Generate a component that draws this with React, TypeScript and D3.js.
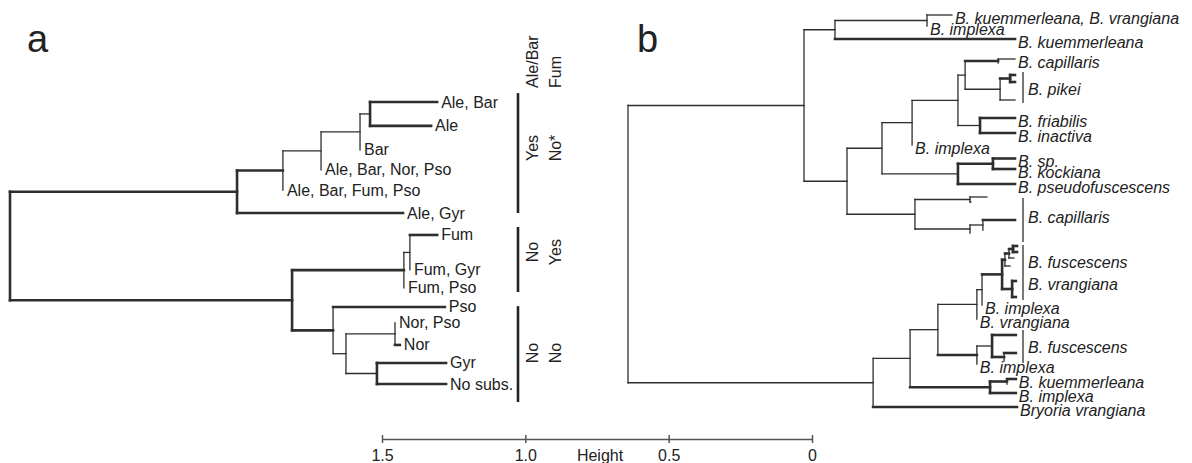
import { useRef, useEffect } from 'react';
import * as d3 from 'd3';

/**
 * Two dendrograms side by side (a: substance profiles, b: Bryoria taxa)
 */

// ---- panel a: [id, parent, distance from root (Height units)]
const treeANodes: [string, string | null, number][] = [
  ['a0', null, 0],
  ['aA', 'a0', 0.792],
  ['aB', 'a0', 0.984],
  ['a283', 'aA', 0.952],
  ['a321', 'a283', 1.085],
  ['a360', 'a321', 1.221],
  ['a370', 'a360', 1.256],
  ['la1', 'a370', 1.49],
  ['la2', 'a370', 1.469],
  ['la3', 'a360', 1.221],
  ['la4', 'a321', 1.085],
  ['la5', 'a283', 0.952],
  ['la6', 'aA', 1.371],
  ['a404', 'aB', 1.374],
  ['a410', 'a404', 1.395],
  ['la7', 'a410', 1.49],
  ['la8', 'a410', 1.395],
  ['la9', 'a404', 1.374],
  ['a333', 'aB', 1.127],
  ['la10', 'a333', 1.517],
  ['a346', 'a333', 1.172],
  ['a395', 'a346', 1.343],
  ['la11', 'a395', 1.343],
  ['la12', 'a395', 1.36],
  ['a377', 'a346', 1.28],
  ['la13', 'a377', 1.521],
  ['la14', 'a377', 1.521],
];
// leaf: [id, row, label]
const treeALeaves: [string, number, string][] = [
  ['la1', 0, 'Ale, Bar'],
  ['la2', 1.1, 'Ale'],
  ['la3', 2.21, 'Bar'],
  ['la4', 3.13, 'Ale, Bar, Nor, Pso'],
  ['la5', 4.06, 'Ale, Bar, Fum, Pso'],
  ['la6', 5.12, 'Ale, Gyr'],
  ['la7', 6.13, 'Fum'],
  ['la8', 7.74, 'Fum, Gyr'],
  ['la9', 8.57, 'Fum, Pso'],
  ['la10', 9.45, 'Pso'],
  ['la11', 10.18, 'Nor, Pso'],
  ['la12', 11.2, 'Nor'],
  ['la13', 12.03, 'Gyr'],
  ['la14', 13, 'No subs.'],
];
const treeABold = ['aA', 'aB', 'a283', 'la6', 'la1', 'la2', 'a404', 'a333', 'la7', 'la10', 'la12', 'la13', 'la14'];

const groupRows: [number, number][] = [[-0.41, 5.12], [5.76, 8.76], [9.41, 13.83]];
const groupMidRows = [2.12, 6.92, 11.57];
const colHeads = ['Ale/Bar', 'Fum'];
const colAleBar = ['Yes', 'No', 'No'];
const colFum = ['No*', 'Yes', 'No'];

// ---- panel b
const treeBNodes: [string, string | null, number][] = [
  ['b0', null, 0],
  ['b804', 'b0', 0.614],
  ['b835', 'b804', 0.722],
  ['b927', 'b835', 1.043],
  ['bl1', 'b927', 1.13],
  ['bl2', 'b927', 1.043],
  ['bl3', 'b835', 1.35],
  ['b847', 'b804', 0.764],
  ['b882', 'b847', 0.886],
  ['b912', 'b882', 0.991],
  ['b958a', 'b912', 1.151],
  ['b965', 'b958a', 1.176],
  ['b998', 'b965', 1.291],
  ['bl4', 'b998', 1.35],
  ['bl5', 'b998', 1.291],
  ['b1000', 'b965', 1.298],
  ['b1010', 'b1000', 1.333],
  ['bl6', 'b1010', 1.35],
  ['bl7', 'b1010', 1.35],
  ['bl8', 'b1000', 1.35],
  ['b980', 'b958a', 1.228],
  ['bl9', 'b980', 1.35],
  ['bl10', 'b980', 1.35],
  ['bl11', 'b912', 0.991],
  ['b958b', 'b882', 1.151],
  ['b993', 'b958b', 1.273],
  ['bl12', 'b993', 1.35],
  ['bl13', 'b993', 1.35],
  ['bl14', 'b958b', 1.35],
  ['b915', 'b847', 1.001],
  ['bc1', 'b915', 1.193],
  ['bl15', 'bc1', 1.252],
  ['bl16', 'bc1', 1.196],
  ['bc2', 'b915', 1.193],
  ['bc3', 'bc2', 1.238],
  ['bl17', 'bc3', 1.35],
  ['bl18', 'bc3', 1.238],
  ['bl19', 'bc2', 1.193],
  ['b873', 'b0', 0.855],
  ['b910', 'b873', 0.984],
  ['b938', 'b910', 1.081],
  ['b977', 'b938', 1.217],
  ['b982', 'b977', 1.235],
  ['b1002', 'b982', 1.305],
  ['bF', 'b1002', 1.315],
  ['bF2', 'bF', 1.329],
  ['bF3', 'bF2', 1.343],
  ['bl20', 'bF3', 1.357],
  ['bl21', 'bF3', 1.357],
  ['bl22', 'bF2', 1.346],
  ['bl23', 'bF', 1.333],
  ['bV', 'b1002', 1.34],
  ['bl24', 'bV', 1.353],
  ['bl25', 'bV', 1.353],
  ['bl26', 'b982', 1.235],
  ['bl27', 'b977', 1.217],
  ['b977b', 'b938', 1.217],
  ['b992', 'b977b', 1.27],
  ['bl28', 'b992', 1.353],
  ['b1004', 'b992', 1.312],
  ['bl29', 'b1004', 1.353],
  ['bl30', 'b1004', 1.312],
  ['bl31', 'b977b', 1.217],
  ['b990', 'b910', 1.263],
  ['b1007', 'b990', 1.322],
  ['bl32', 'b1007', 1.353],
  ['bl33', 'b1007', 1.322],
  ['bl34', 'b990', 1.353],
  ['bl35', 'b873', 1.357],
];
const treeBLeaves: [string, number, string][] = [
  ['bl1', 0, 'B. kuemmerleana, B. vrangiana'],
  ['bl2', 1.1, 'B. implexa'],
  ['bl3', 2.4, 'B. kuemmerleana'],
  ['bl4', 4.4, 'B. capillaris'],
  ['bl5', 4.8, ''],
  ['bl6', 6.0, ''],
  ['bl7', 6.7, ''],
  ['bl8', 8.5, ''],
  ['bl9', 10.3, 'B. friabilis'],
  ['bl10', 11.8, 'B. inactiva'],
  ['bl11', 13.0, 'B. implexa'],
  ['bl12', 14.35, 'B. sp.'],
  ['bl13', 15.4, 'B. kockiana'],
  ['bl14', 16.9, 'B. pseudofuscescens'],
  ['bl15', 18.2, ''],
  ['bl16', 18.7, ''],
  ['bl17', 20.5, ''],
  ['bl18', 21.5, ''],
  ['bl19', 21.8, ''],
  ['bl20', 23.1, ''],
  ['bl21', 23.7, ''],
  ['bl22', 24.3, ''],
  ['bl23', 25.1, ''],
  ['bl24', 26.6, ''],
  ['bl25', 28.2, ''],
  ['bl26', 29.0, 'B. implexa'],
  ['bl27', 30.4, 'B. vrangiana'],
  ['bl28', 32.0, ''],
  ['bl29', 33.8, ''],
  ['bl30', 34.6, ''],
  ['bl31', 34.9, 'B. implexa'],
  ['bl32', 36.4, 'B. kuemmerleana'],
  ['bl33', 36.9, ''],
  ['bl34', 37.8, 'B. implexa'],
  ['bl35', 39.2, 'Bryoria vrangiana'],
];
const treeBBold = ['bl3', 'b998', 'b1010', 'bl6', 'bl7', 'bl9', 'bl10', 'b993', 'bl12', 'bl13', 'bl14',
  'bl17', 'bl35', 'b990', 'b1007', 'bl32', 'bl34', 'b977b', 'bl28', 'b1004', 'bl29', 'b1002', 'bV',
  'bl24', 'bl25', 'bF', 'bF2', 'bF3', 'bl20', 'bl21'];

const cladeBars: [number, number][] = [[5.7, 8.8], [18.3, 22.7], [23.0, 28.5], [31.5, 34.8]];
const cladeLabels: [number, string][] = [
  [7.4, 'B. pikei'], [20.2, 'B. capillaris'], [24.7, 'B. fuscescens'], [26.9, 'B. vrangiana'], [33.2, 'B. fuscescens'],
];

// scale bar
const heightTicks = [1.5, 1.0, 0.5, 0];
const heightTickLabels = ['1.5', '1.0', '0.5', '0'];

const FONT = '"Liberation Sans", Arial, Helvetica, sans-serif';
const LINE = '#2e2e2e';

function buildTree(nodes: [string, string | null, number][], leaves: [string, number, string][]) {
  const leafMap = new Map(leaves.map(l => [l[0], l]));
  const root: any = d3.stratify<[string, string | null, number]>().id(d => d[0]).parentId(d => d[1])(nodes);
  root.eachAfter((n: any) => {
    if (!n.children) {
      const lf = leafMap.get(n.id)!;
      n.row = lf[1];
      n.label = lf[2];
    } else {
      const rs = n.children.map((c: any) => c.row);
      n.row = ((d3.min(rs) as number) + (d3.max(rs) as number)) / 2;
    }
  });
  return root;
}

function drawTree(g: any, root: any, x: any, y: any, bold: string[], dx: number, dy: number, italic: boolean) {
  const boldSet = new Set(bold);
  const thin = 1.3, thick = 2.6;
  root.each((n: any) => {
    if (n.parent) {
      const x0 = x(n.parent.data[2]), x1 = x(n.data[2]);
      if (x1 - x0 > 0.5) {
        g.append('line').attr('x1', x0).attr('x2', x1).attr('y1', y(n.row)).attr('y2', y(n.row))
          .attr('stroke', LINE).attr('stroke-width', boldSet.has(n.id) ? thick : thin)
          .attr('stroke-linecap', 'square');
      }
    }
    if (n.children) {
      const rs = n.children.map((c: any) => c.row);
      const allBold = n.children.every((c: any) => boldSet.has(c.id));
      g.append('line').attr('x1', x(n.data[2])).attr('x2', x(n.data[2]))
        .attr('y1', y(d3.min(rs))).attr('y2', y(d3.max(rs)))
        .attr('stroke', LINE).attr('stroke-width', allBold ? thick : thin)
        .attr('stroke-linecap', 'square');
    }
  });
  root.leaves().filter((n: any) => n.label).forEach((n: any) => {
    g.append('text').attr('x', x(n.data[2]) + dx).attr('y', y(n.row) + dy)
      .attr('dominant-baseline', 'central')
      .attr('font-size', 16).attr('font-family', FONT)
      .attr('font-style', italic ? 'italic' : 'normal')
      .attr('fill', '#222').text(n.label);
  });
}

export default function App() {
  const ref = useRef<SVGSVGElement>(null);

  useEffect(() => {
    const svg = d3.select(ref.current);
    svg.selectAll('*').remove();
    const W = 1192, H = 463;
    svg.append('rect').attr('width', W).attr('height', H).attr('fill', '#fff');

    // ---- panel a
    const gA = svg.append('g');
    const xA = d3.scaleLinear().domain([0, 1.5]).range([10, 440]);
    const yA = d3.scaleLinear().domain([0, 13]).range([102, 384]);
    drawTree(gA, buildTree(treeANodes, treeALeaves), xA, yA, treeABold, 4, 0, false);

    gA.append('text').attr('x', 27).attr('y', 52).attr('font-size', 38).attr('font-family', FONT)
      .attr('fill', '#222').text('a');

    const barX = 518;
    groupRows.forEach(([r0, r1]) => {
      gA.append('line').attr('x1', barX).attr('x2', barX).attr('y1', yA(r0)).attr('y2', yA(r1))
        .attr('stroke', '#222').attr('stroke-width', 2.6);
    });
    const colX = [532, 555];
    colHeads.forEach((t, i) => {
      gA.append('text').attr('transform', `translate(${colX[i]},${yA(-0.65)}) rotate(-90)`)
        .attr('dominant-baseline', 'central').attr('text-anchor', 'start')
        .attr('font-size', 16).attr('font-family', FONT).attr('fill', '#222').text(t);
    });
    [colAleBar, colFum].forEach((col, i) => {
      col.forEach((t, j) => {
        gA.append('text').attr('transform', `translate(${colX[i]},${yA(groupMidRows[j])}) rotate(-90)`)
          .attr('dominant-baseline', 'central').attr('text-anchor', 'middle')
          .attr('font-size', 16).attr('font-family', FONT).attr('fill', '#222').text(t);
      });
    });

    // ---- panel b
    const gB = svg.append('g');
    const xB = d3.scaleLinear().domain([0, 1.5]).range([628, 1058]);
    const yB = d3.scaleLinear().domain([0, 40]).range([15, 415]);
    drawTree(gB, buildTree(treeBNodes, treeBLeaves), xB, yB, treeBBold, 3, 3, true);

    gB.append('text').attr('x', 637).attr('y', 52).attr('font-size', 38).attr('font-family', FONT)
      .attr('fill', '#222').text('b');

    cladeBars.forEach(([r0, r1]) => {
      gB.append('line').attr('x1', 1023).attr('x2', 1023).attr('y1', yB(r0)).attr('y2', yB(r1))
        .attr('stroke', LINE).attr('stroke-width', 1.3);
    });
    cladeLabels.forEach(([r, t]) => {
      gB.append('text').attr('x', 1028).attr('y', yB(r)).attr('dominant-baseline', 'central')
        .attr('font-size', 16).attr('font-family', FONT).attr('font-style', 'italic')
        .attr('fill', '#222').text(t);
    });

    // ---- Height scale bar
    const hs = d3.scaleLinear().domain([1.5, 0]).range([382, 812]);
    const ag = svg.append('g').attr('transform', 'translate(0,439)')
      .call(d3.axisBottom(hs).tickValues(heightTicks).tickFormat((_, i) => heightTickLabels[i]).tickSizeOuter(0));
    ag.attr('font-family', FONT).attr('font-size', 16);
    ag.select('.domain').attr('stroke', '#555').attr('stroke-width', 1.5);
    ag.selectAll('.tick line').attr('y1', -4).attr('y2', 4).attr('stroke', '#555').attr('stroke-width', 1.5);
    ag.selectAll('.tick text').attr('y', 11).attr('fill', '#222');
    ag.append('text').attr('x', 600).attr('y', 11).attr('dy', '0.71em').attr('text-anchor', 'middle')
      .attr('fill', '#222').text('Height');
  }, []);

  return (
    <svg ref={ref} width={1192} height={463}
      style={{ position: 'absolute', left: 0, top: 0, display: 'block' }} />
  );
}
